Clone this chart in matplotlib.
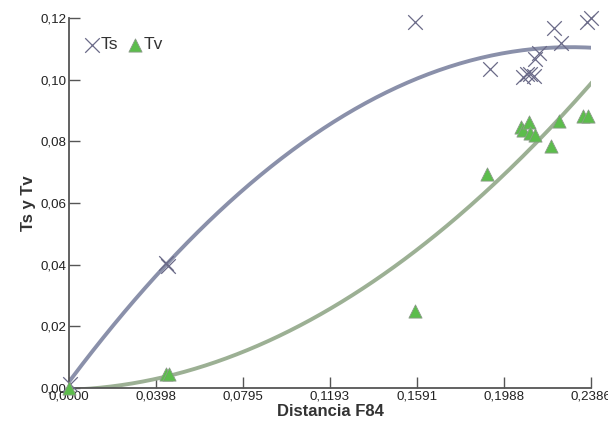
import numpy as np
import matplotlib.pyplot as plt
from matplotlib.ticker import FuncFormatter

plt.rcParams['font.family'] = ['Liberation Sans', 'DejaVu Sans']

# Ts points (Distancia F84, Ts)
ts_x = [0.0005, 0.0443, 0.0453, 0.1582, 0.1923, 0.2075, 0.2093, 0.2107, 0.2125,
        0.2132, 0.2148, 0.2219, 0.2249, 0.2368, 0.2386]
ts_y = [0.0013, 0.0405, 0.0396, 0.1187, 0.1035, 0.1008, 0.1018, 0.1018, 0.1012,
        0.1068, 0.1085, 0.1166, 0.1119, 0.1186, 0.1200]

# Tv points (Distancia F84, Tv)
tv_x = [0.0000, 0.0443, 0.0457, 0.1582, 0.1911, 0.2066, 0.2075, 0.2103, 0.2107,
        0.2130, 0.2203, 0.2240, 0.2349, 0.2372]
tv_y = [0.0000, 0.0045, 0.0045, 0.0250, 0.0694, 0.0846, 0.0837, 0.0863, 0.0827,
        0.0820, 0.0785, 0.0866, 0.0882, 0.0882]

x_ticks = [0.0, 0.0398, 0.0795, 0.1193, 0.1591, 0.1988, 0.2386]
y_ticks = [0.0, 0.02, 0.04, 0.06, 0.08, 0.10, 0.12]

ts_col = '#8a90aa'
tv_col = '#9cb094'

fig = plt.figure(figsize=(6.08, 4.30), dpi=100)
ax = fig.add_axes([0.1135, 0.0977, 0.8585, 0.8605])

# quadratic trend lines fitted to the points
xs = np.linspace(0, 0.2386, 200)
ts_fit = np.polyfit(ts_x, ts_y, 2)
tv_fit = np.polyfit(tv_x, tv_y, 2)
ax.plot(xs, np.polyval(ts_fit, xs), color=ts_col, lw=2.8, zorder=2)
ax.plot(xs, np.polyval(tv_fit, xs), color=tv_col, lw=2.8, zorder=2)

ax.scatter(ts_x, ts_y, marker='x', s=110, color='#6a6a88', linewidths=0.9,
           label='Ts', zorder=3, clip_on=False)
ax.scatter(tv_x, tv_y, marker='^', s=90, color='#5cbd4c', edgecolors='#8a9a88',
           linewidths=0.6, label='Tv', zorder=3, clip_on=False)

ax.set_xlim(0, 0.2386)
ax.set_ylim(0, 0.12)
ax.set_xticks(x_ticks)
ax.set_yticks(y_ticks)
ax.xaxis.set_major_formatter(FuncFormatter(lambda v, p: f'{v:.4f}'.replace('.', ',')))
ax.yaxis.set_major_formatter(FuncFormatter(lambda v, p: f'{v:.2f}'.replace('.', ',')))

for s in ['top', 'right']:
    ax.spines[s].set_visible(False)
for s in ['left', 'bottom']:
    ax.spines[s].set_color('#555555')
    ax.spines[s].set_linewidth(1.3)
ax.tick_params(direction='in', length=8, width=1, color='#555555',
               labelsize=9.6, labelcolor='#222222')
ax.tick_params(axis='x', pad=2)
ax.tick_params(axis='y', pad=2)

ax.set_xlabel('Distancia F84', fontsize=12, fontweight='bold', color='#333333', labelpad=1)
ax.set_ylabel('Ts y Tv', fontsize=12, fontweight='bold', color='#333333', labelpad=3)

ax.legend(loc='upper left', ncol=2, frameon=False, fontsize=12.5, handlelength=0.8,
          handletextpad=0.1, columnspacing=0.6, bbox_to_anchor=(0.0, 0.99),
          labelcolor='#333333')

fig.savefig('out.png', dpi=100)
